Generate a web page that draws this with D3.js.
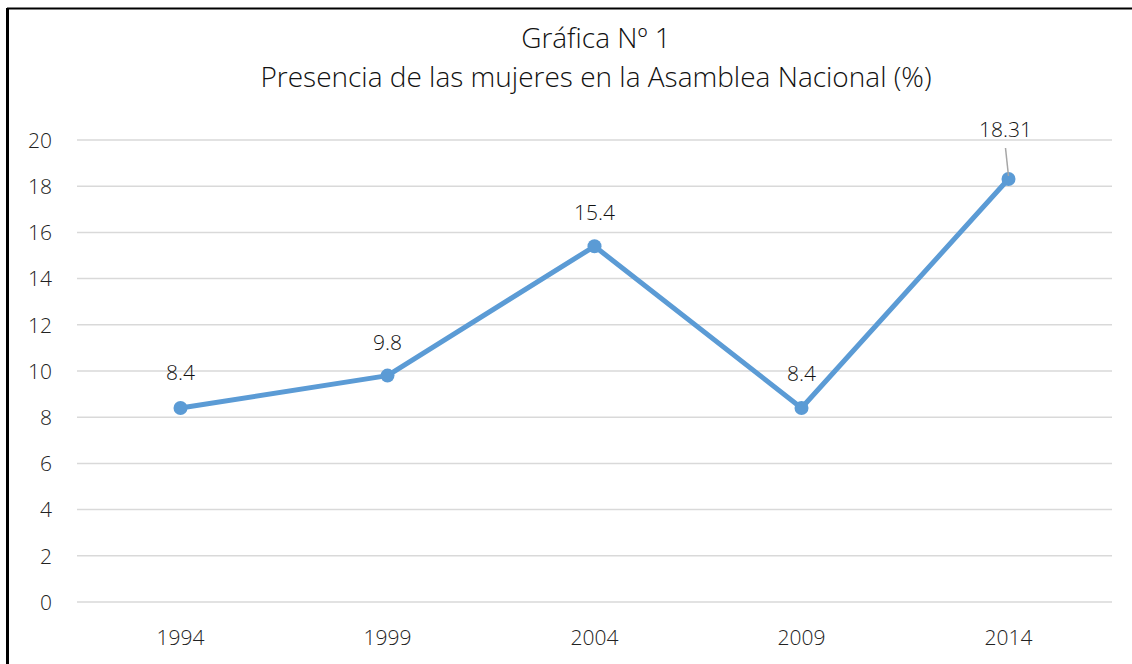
<!DOCTYPE html>
<html>
<head>
<meta charset="utf-8">
<script src="https://cdn.jsdelivr.net/npm/d3@7"></script>
<style>
body { margin: 0; background: #fff; }
svg { display: block; font-family: "Open Sans", sans-serif; font-weight: 300; }
</style>
</head>
<body>
<svg id="chart" width="1132" height="664"></svg>
<script>
// data
var years = ["1994", "1999", "2004", "2009", "2014"];
var values = [8.4, 9.8, 15.4, 8.4, 18.31];
var valueLabels = ["8.4", "9.8", "15.4", "8.4", "18.31"];
var yTicks = [0, 2, 4, 6, 8, 10, 12, 14, 16, 18, 20];
var titleLines = ["Gráfica Nº 1", "Presencia de las mujeres en la Asamblea Nacional (%)"];

var width = 1132, height = 664;
var plotLeft = 77, plotRight = 1112, plotTop = 140, plotBottom = 602;

var svg = d3.select("#chart");

// outer frame (only left and top are inside the picture)
svg.append("line").attr("x1", 7).attr("y1", 8.5).attr("x2", width).attr("y2", 8.5)
	.attr("stroke", "#000").attr("stroke-width", 2);
svg.append("line").attr("x1", 7.5).attr("y1", 8).attr("x2", 7.5).attr("y2", height)
	.attr("stroke", "#000").attr("stroke-width", 3);

var x = d3.scaleBand().domain(years).range([plotLeft, plotRight]);
var y = d3.scaleLinear().domain([0, 20]).range([plotBottom, plotTop]);

// gridlines
svg.append("g").selectAll("line")
	.data(yTicks)
	.enter()
	.append("line")
	.attr("x1", plotLeft)
	.attr("x2", plotRight)
	.attr("y1", function(d) { return y(d); })
	.attr("y2", function(d) { return y(d); })
	.attr("stroke", "#d9d9d9")
	.attr("stroke-width", 1.5);

// y axis labels
var yAxis = d3.axisLeft(y).tickValues(yTicks).tickSize(0).tickPadding(0);
var gy = svg.append("g").attr("transform", "translate(52,0)").call(yAxis);
gy.select(".domain").remove();
gy.selectAll("text").attr("font-size", 21).attr("fill", "#222")
	.attr("font-family", "Open Sans, sans-serif").attr("font-weight", 300).attr("dy", "0.35em");

// x axis labels
var xAxis = d3.axisBottom(x).tickSize(0).tickPadding(0);
var gx = svg.append("g").attr("transform", "translate(0,628)").call(xAxis);
gx.select(".domain").remove();
gx.selectAll("text").attr("font-size", 21).attr("fill", "#222")
	.attr("font-family", "Open Sans, sans-serif").attr("font-weight", 300).attr("dy", "0.8em");

var cx = function(d, i) { return x(years[i]) + x.bandwidth() / 2; };

// line
var line = d3.line()
	.x(function(d, i) { return cx(d, i); })
	.y(function(d) { return y(d); });

svg.append("path")
	.datum(values)
	.attr("d", line)
	.attr("fill", "none")
	.attr("stroke", "#5b9bd5")
	.attr("stroke-width", 5)
	.attr("stroke-linejoin", "round")
	.attr("stroke-linecap", "round");

svg.append("g").selectAll("circle")
	.data(values)
	.enter()
	.append("circle")
	.attr("cx", cx)
	.attr("cy", function(d) { return y(d); })
	.attr("r", 7)
	.attr("fill", "#5b9bd5");

// data labels; the last one sits higher with a leader line
var labelOffset = [28, 26, 26, 27, 42];
var labelShift = [0, 0, 0, 0, -3];

svg.append("line")
	.attr("x1", cx(values[4], 4) - 3)
	.attr("y1", y(values[4]) - 31)
	.attr("x2", cx(values[4], 4))
	.attr("y2", y(values[4]) - 3)
	.attr("stroke", "#a6a6a6")
	.attr("stroke-width", 1.5);

svg.append("g").selectAll("text")
	.data(values)
	.enter()
	.append("text")
	.attr("x", function(d, i) { return cx(d, i) + labelShift[i]; })
	.attr("y", function(d, i) { return y(d) - labelOffset[i]; })
	.attr("text-anchor", "middle")
	.attr("font-size", 21)
	.attr("fill", "#111")
	.text(function(d, i) { return valueLabels[i]; });

// title
svg.append("g").selectAll("text")
	.data(titleLines)
	.enter()
	.append("text")
	.attr("x", 596)
	.attr("y", function(d, i) { return 48 + i * 39; })
	.attr("text-anchor", "middle")
	.attr("font-size", 28)
	.attr("fill", "#111")
	.text(function(d) { return d; });
</script>
</body>
</html>
